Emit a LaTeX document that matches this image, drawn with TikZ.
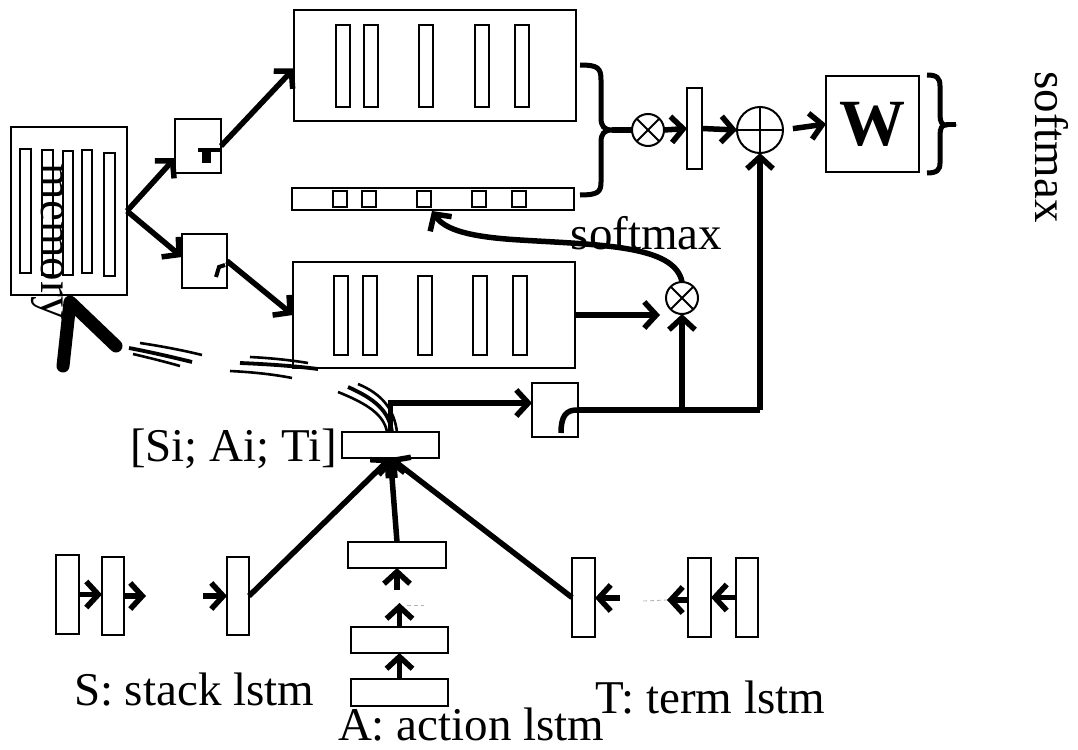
\documentclass[tikz,border=0pt]{standalone}
\usepackage{fontspec}
\setmainfont{Liberation Serif}
\usetikzlibrary{arrows.meta,calc}
\newcommand\bxat[5]{\node[bx,minimum width=#4pt,minimum height=#5pt] (#1) at (#2,-#3) {};}
\begin{document}
\begin{tikzpicture}[x=1pt,y=1pt,
  bx/.style={draw, line width=2pt, fill=white, inner sep=0pt, outer sep=0pt, rectangle},
  circ/.style={draw, line width=2pt, fill=white, circle, inner sep=0pt, outer sep=0pt},
  arr/.style={line width=5.5pt, -{Straight Barb[length=12pt,width=26pt]}},
  ln/.style={line width=5.5pt},
  brc/.style={line width=5pt},
  swl/.style={line width=2.6pt},
  swk/.style={line width=3.8pt},
  dsh/.style={gray!60, line width=0.8pt, dashed, dash pattern=on 4pt off 3pt},
  lab/.style={font=\fontsize{47}{50}\selectfont, inner sep=0pt, outer sep=0pt}
]
\path[use as bounding box] (0,0) rectangle (1078,-749);

% memory
\bxat{mem}{69}{211}{116}{168}
\bxat{m1}{25.5}{211}{11}{124}
\bxat{m2}{47.5}{212.5}{11}{125}
\bxat{m3}{68}{213}{10}{124}
\bxat{m4}{87}{211.5}{10}{123}
\bxat{m5}{109.5}{214.5}{11}{123}
\node[lab, rotate=-90] (memtxt) at (48,-242) {memory};

% small boxes near memory
\bxat{ub}{198}{146}{46}{54}
\bxat{lb}{204.5}{261}{45}{54}
\fill (198,-148) rectangle (221,-152);
\fill (202,-148) rectangle (211,-163);
\draw[line width=4pt] (216,-277) -- (219,-267) -- (225,-265);

% top box
\bxat{tb}{435}{65.5}{282}{111}
\foreach \i/\x in {1/343,2/371,3/426,4/481.5,5/521.5}{\bxat{tb\i}{\x}{66}{14}{82}}
% strip
\bxat{st}{433}{199}{282}{22}
\foreach \i/\x in {1/340,2/368.5,3/424,4/479,5/519}{\bxat{st\i}{\x}{199}{14}{16}}
% middle box
\bxat{mb}{434}{315}{282}{106}
\foreach \i/\x in {1/341,2/370,3/425,4/480,5/520}{\bxat{mb\i}{\x}{315.5}{14}{79}}

% right part
\node[circ, minimum size=32pt] (ot1) at (648,-130) {};
\draw[line width=2pt] (ot1.north east) -- (ot1.south west) (ot1.north west) -- (ot1.south east);
\bxat{vb}{694.5}{128.5}{15}{81}
\node[circ, minimum size=46pt] (op) at (760,-130) {};
\draw[line width=2pt] (op.north) -- (op.south) (op.west) -- (op.east);
\node[bx, minimum width=93pt, minimum height=96pt, font=\fontsize{66}{70}\selectfont\bfseries] (wb) at (872.5,-124) {W};
\node[circ, minimum size=32pt] (ot2) at (682,-298) {};
\draw[line width=2pt] (ot2.north east) -- (ot2.south west) (ot2.north west) -- (ot2.south east);

% bracket 1
\coordinate (br1) at (612,-130);
\draw[brc] (580,-65) .. controls (598,-65) and (601,-68) .. (601,-80) -- (601,-118) .. controls (601,-126) and (604,-130) .. (br1) .. controls (604,-130) and (601,-134) .. (601,-142) -- (601,-182) .. controls (601,-192) and (598,-195) .. (580,-195);
\draw[brc] (br1) -- (ot1.west);
% bracket 2
\coordinate (br2) at (946,-125);
\coordinate (br2t) at (956,-125);
\draw[brc] (927,-75) .. controls (937,-75) and (940,-78) .. (940,-86) -- (940,-115) .. controls (940,-122) and (942,-125) .. (br2) .. controls (942,-125) and (940,-128) .. (940,-135) -- (940,-163) .. controls (940,-170) and (937,-173) .. (927,-173);
\draw[brc] (br2) -- (br2t);

\draw[arr] (ot1.east) -- (vb.west);
\draw[arr] (vb.east) -- (op.west);
\draw[arr, shorten <=10pt] (op.east) -- (wb.west);

\node[lab, rotate=-90] (smx2) at (1052,-147) {softmax};

% memory arrows
\draw[arr] (mem.east) -- ([yshift=-12pt]ub.west);
\draw[arr] (mem.east) -- ([yshift=4pt]lb.west);
\draw[arr] (ub.east) -- ([yshift=-3pt]tb.west);
\draw[arr] (lb.east) -- (mb.west);

% middle box to otimes2
\coordinate (ot2in) at ($(mb.east -| ot2.west)+(-6,0)$);
\draw[arr] (mb.east) -- (ot2in);
\coordinate (stin) at (432,-211);
\draw[arr] (ot2.north) .. controls (675,-245) and (600,-245) .. (520,-240) .. controls (470,-237) and (445,-230) .. (stin);
\node[lab, anchor=base] (smx1) at (646.5,-249) {softmax};

% small box right
\bxat{sb}{555}{410}{46}{54}
\draw[line width=5.5pt] (561,-433) .. controls (561,-416) and (566,-410) .. (577,-410);
\coordinate (j1) at (ot2 |- sb.east);
\coordinate (j2) at (op |- sb.east);
\draw[ln] (sb.east) -- (j2);
\draw[arr] (j2) -- (op.south);
\draw[arr] (j1) -- (ot2.south);

% concat box
\bxat{cb}{390.5}{445}{97}{26}
\node[lab, anchor=base west] (cblab) at (130,-461) {[Si; Ai; Ti]};
\draw[arr] (cb.north) |- ([yshift=7pt]sb.west);

% swoosh fragments
\draw[swl] (338,-392) .. controls (368,-404) and (384,-415) .. (387,-432);
\draw[swk] (348,-387) .. controls (375,-399) and (389,-411) .. (392,-432);
\draw[swl] (358,-384) .. controls (382,-394) and (394,-409) .. (397,-432);
\draw[swl] (250,-357) .. controls (270,-358) and (290,-360) .. (308,-363);
\draw[swk] (240,-363) .. controls (265,-364) and (295,-366) .. (318,-369);
\draw[swl] (230,-371) .. controls (250,-372) and (272,-374) .. (292,-378);
\draw[swl] (140,-343) .. controls (160,-346) and (182,-350) .. (202,-355);
\draw[swk] (129,-348) .. controls (150,-352) and (172,-357) .. (192,-362);
\draw[swl] (133,-354) .. controls (150,-358) and (166,-362) .. (180,-366);
\draw[line width=13pt, line cap=round, line join=round] (63,-366) -- (70,-302) -- (116,-346);

% stack lstm
\bxat{s1}{67.5}{594.5}{23}{79}
\bxat{s2}{113}{596}{22}{78}
\bxat{s3}{238}{596}{22}{78}
\coordinate (s2o) at (146,-596);
\coordinate (s3i) at (203,-596);
\draw[arr] (s1.east) -- (s1.east -| s2.west);
\draw[arr] (s2.east) -- (s2o);
\draw[arr] (s3i) -- (s3.west);
\node[lab, anchor=base west] (slab) at (74,-705) {S: stack lstm};

% action lstm
\bxat{a3}{397}{555}{98}{26}
\bxat{a2}{399.5}{640}{97}{26}
\bxat{a1}{399.5}{692.5}{97}{27}
\coordinate (a2o) at (399.5,-603);
\coordinate (a3i) at (397,-590);
\draw[arr] (a1.north) -- (a2.south);
\draw[arr] (a2.north) -- (a2o);
\draw[arr] (a3i) -- (a3.south);
\draw[dsh] (407,-605) -- (424,-605);
\node[lab, anchor=base west] (alab) at (338,-740) {A: action lstm};

% term lstm
\bxat{t1}{583.5}{597.5}{23}{79}
\bxat{t2}{699.5}{597.5}{23}{79}
\bxat{t3}{747}{597.5}{22}{79}
\coordinate (t1i) at (620,-598);
\coordinate (t2o) at (667,-600);
\coordinate (t2d) at (643,-601);
\draw[arr] (t3.west) -- (t3.west -| t2.east);
\draw[arr] ([yshift=-2.5pt]t2.west) -- (t2o);
\draw[dsh] (t2d) -- (t2o);
\draw[arr] (t1i) -- ([yshift=-0.5pt]t1.east);
\node[lab, anchor=base west] (tlab) at (595,-713) {T: term lstm};

% into concat
\draw[arr] (s3.east) -- (cb.south);
\draw[arr] (a3.north) -- (cb.south);
\draw[arr] (t1.west) -- (cb.south);
\end{tikzpicture}
\end{document}
